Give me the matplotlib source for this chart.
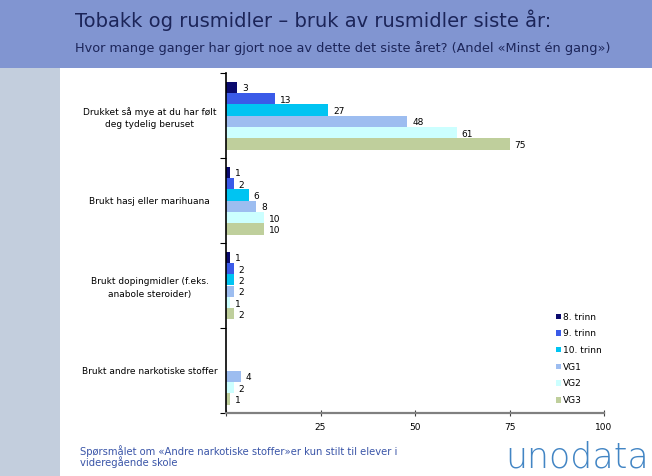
import matplotlib
matplotlib.use("Agg")
import matplotlib.pyplot as plt
from matplotlib.patches import Rectangle, Patch
import numpy as np

categories = ["Drukket så mye at du har følt\ndeg tydelig beruset",
              "Brukt hasj eller marihuana",
              "Brukt dopingmidler (f.eks.\nanabole steroider)",
              "Brukt andre narkotiske stoffer"]
series = ["8. trinn", "9. trinn", "10. trinn", "VG1", "VG2", "VG3"]
values = {
    "8. trinn":  [3, 1, 1, None],
    "9. trinn":  [13, 2, 2, None],
    "10. trinn": [27, 6, 2, None],
    "VG1":       [48, 8, 2, 4],
    "VG2":       [61, 10, 1, 2],
    "VG3":       [75, 10, 2, 1],
}
colors = ["#0A0A6E", "#3A5AE8", "#00C4F2", "#9DBDF0", "#CCFFFF", "#BFCF9C"]
xticks = [25, 50, 75, 100]

title = "Tobakk og rusmidler – bruk av rusmidler siste år:"
subtitle = "Hvor mange ganger har gjort noe av dette det siste året? (Andel «Minst én gang»)"
footnote = "Spørsmålet om «Andre narkotiske stoffer»er kun stilt til elever i\nvideregående skole"

fig = plt.figure(figsize=(6.52, 4.76), dpi=100)
fig.patch.set_facecolor("white")

# header band and side bar
fig.add_artist(Rectangle((0, 1 - 68/476), 1, 68/476, transform=fig.transFigure,
                         facecolor="#8195D1", edgecolor="none", zorder=0))
fig.add_artist(Rectangle((0, 0), 60/652, 1 - 68/476, transform=fig.transFigure,
                         facecolor="#C3CEDD", edgecolor="none", zorder=0))
fig.text(75/652, 1 - 20/476, title, fontsize=14, color="#1C2559",
         va="center", ha="left", family="DejaVu Sans")
fig.text(75/652, 1 - 48/476, subtitle, fontsize=9.3, color="#1C2559",
         va="center", ha="left", family="DejaVu Sans")

ax = fig.add_axes([226/652, 1 - 413/476, 378/652, 340/476])
n = len(series)
h = 0.8 / n
y = np.arange(len(categories))
for j, s in enumerate(series):
    for i, v in enumerate(values[s]):
        if v is None:
            continue
        yy = i + (j - (n - 1) / 2) * h
        ax.barh(yy, v, height=h, color=colors[j], edgecolor="none")
        ax.text(v + 1.3, yy + 0.02, str(v), fontsize=6.5, va="center", ha="left",
                color="black")

ax.set_xlim(0, 100)
ax.set_ylim(len(categories) - 0.5, -0.5)
ax.set_xticks([0] + xticks)
ax.set_xticklabels([""] + [str(t) for t in xticks], fontsize=6.5)
ax.tick_params(axis="x", direction="inout", length=5, width=0.8, pad=5,
               color="#404040")
ax.set_yticks(y)
ax.set_yticklabels(categories, fontsize=6.5, ha="center", linespacing=1.5)
ax.tick_params(axis="y", which="major", length=0, pad=55)
ax.set_yticks(np.arange(-0.5, len(categories) + 0.5, 1), minor=True)
ax.tick_params(axis="y", which="minor", length=4, width=0.8, direction="out")
for sp in ["top", "right"]:
    ax.spines[sp].set_visible(False)
ax.spines["left"].set_color("black")
ax.spines["left"].set_linewidth(1.2)
ax.spines["bottom"].set_color("#808080")
ax.spines["bottom"].set_linewidth(1.6)

handles = [Patch(facecolor=c, edgecolor="none", label=s) for s, c in zip(series, colors)]
fig.legend(handles=handles, loc="upper left", bbox_to_anchor=(552/652, 1 - 309/476),
           frameon=False, fontsize=6.5, handlelength=0.55, handleheight=0.55,
           handletextpad=0.3, labelspacing=0.85, borderaxespad=0)

fig.text(80/652, 1 - 468/476, footnote, fontsize=7.2, color="#3A55A8",
         va="bottom", ha="left", linespacing=0.95)
fig.text(505/652, 1/476, "unodata", fontsize=25, color="#4285C4",
         va="bottom", ha="left", fontweight="light", family="DejaVu Sans")

fig.savefig("out.png", dpi=100)
